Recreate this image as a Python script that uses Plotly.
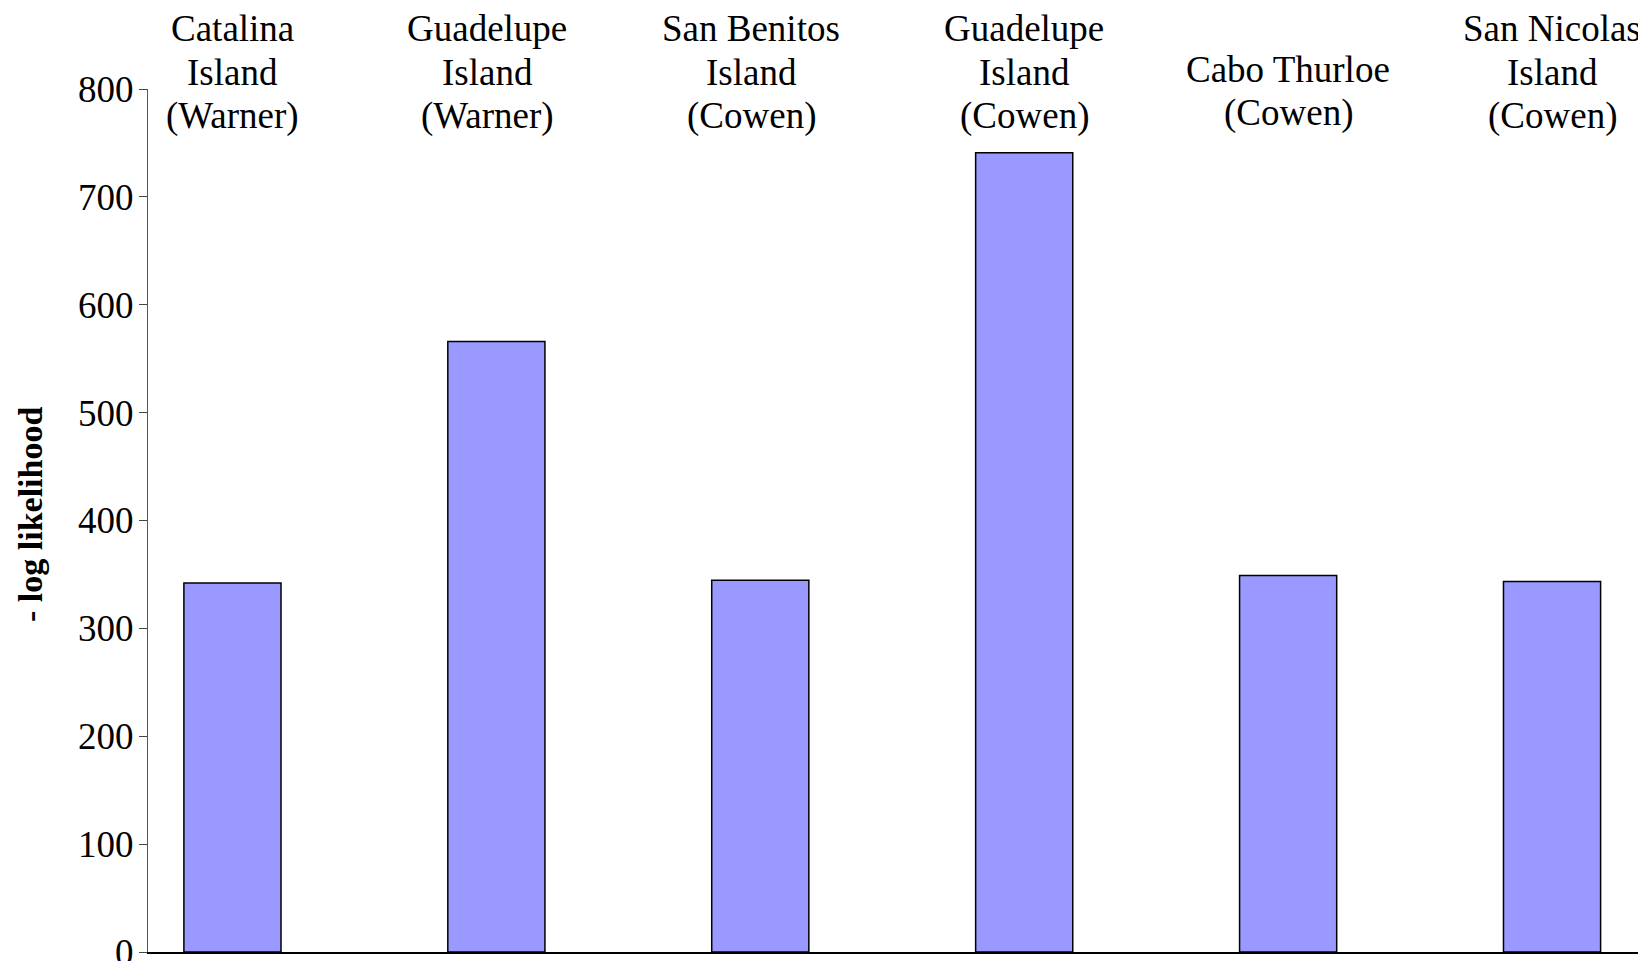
import plotly.graph_objects as go

categories = [
    "Catalina<br>Island<br>(Warner)",
    "Guadelupe<br>Island<br>(Warner)",
    "San Benitos<br>Island<br>(Cowen)",
    "Guadelupe<br>Island<br>(Cowen)",
    "Cabo Thurloe<br>(Cowen)",
    "San Nicolas<br>Island<br>(Cowen)",
]
values = [342, 566, 344.5, 741, 349, 343.5]
y_ticks = [0, 100, 200, 300, 400, 500, 600, 700, 800]
y_title = "- log likelihood"

FONT = "Liberation Serif, Times New Roman, serif"
x_pos = list(range(len(categories)))

# the page body has an 8px margin; compensate so the plot lands where the reference has it
W, H = 1638, 953
ML, MT, MB = 140, 81, 9
plot_w = W - ML
plot_h = H - MT - MB

# small horizontal nudges of the header labels (pixels), as in the reference
label_nudge = {1: -9, 2: -9}

fig = go.Figure()
fig.add_trace(go.Bar(
    x=x_pos, y=values, width=0.368,
    marker=dict(color="#9999FF", line=dict(color="#000000", width=1.5)),
    hoverinfo="y",
))

LINE_GAP = 44
for i, lab in enumerate(categories):
    lines = lab.split("<br>")
    n = len(lines)
    extra = 3 if n == 2 else 0
    for k, line in enumerate(lines):
        fig.add_annotation(
            x=i, y=1 - (108.5 - MT) / plot_h, xref="x", yref="paper",
            yshift=(n - 1 - k) * LINE_GAP + extra,
            xshift=label_nudge.get(i, 0),
            text=line, showarrow=False, yanchor="middle", xanchor="center",
            font=dict(family=FONT, size=37, color="black"),
        )

fig.add_annotation(
    x=-(ML - 22.5) / plot_w, y=0.5 + 6 / plot_h, xref="paper", yref="paper",
    text="<b>" + y_title + "</b>", textangle=-90, showarrow=False,
    xanchor="center", yanchor="middle", borderpad=0,
    font=dict(family=FONT, size=34, color="black"),
)

fig.update_layout(
    width=W, height=H,
    margin=dict(l=ML, r=0, t=MT, b=MB, autoexpand=False),
    paper_bgcolor="white", plot_bgcolor="white",
    showlegend=False,
    font=dict(family=FONT, size=37, color="black"),
    xaxis=dict(
        range=[-0.32, 5.356], showticklabels=False, ticks="",
        showgrid=False, zeroline=False, automargin=False,
        showline=True, linecolor="black", linewidth=1.5,
    ),
    yaxis=dict(
        range=[0, 800], tickvals=y_ticks, ticks="outside", ticklen=8,
        tickcolor="#444", tickwidth=1, showgrid=False, zeroline=False,
        showline=True, linecolor="#555", linewidth=1, automargin=False,
        ticklabelstandoff=-2, ticklabeloverflow="allow",
        tickfont=dict(family=FONT, size=37, color="black"),
    ),
)

fig.write_html("out.html")
